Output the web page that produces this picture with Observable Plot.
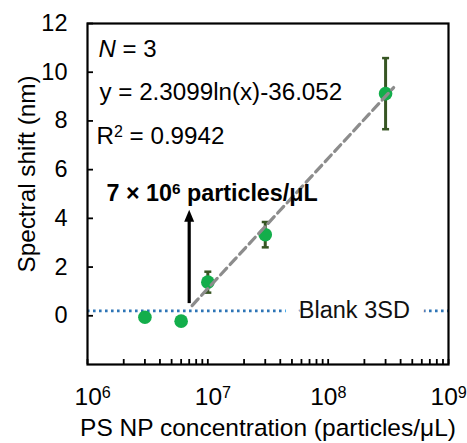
<!DOCTYPE html>
<html><head><meta charset="utf-8">
<script src="https://cdn.jsdelivr.net/npm/d3@7"></script>
<script src="https://cdn.jsdelivr.net/npm/@observablehq/plot@0.6"></script>
<style>html,body{margin:0;padding:0;background:#fff}</style>
</head><body><div id="chart"></div>
<script>
// ---- data ----
const concentrations = [3e6, 6e6, 1e7, 3e7, 3e8];      // particles/µL
const shifts = [-0.06, -0.22, 1.38, 3.33, 9.12];        // nm
const sds = [0.1, 0.1, 0.43, 0.52, 1.46];               // nm
const blank3SD = 0.2;
const fitX = [7.4e6, 3.5e8];
const fitY = [0.42, 9.37];
const lodX = 7e6;
const lodArrowY = [0.5, 4.35];
const blankLabelX = 1.65e8;
const yTicks = [0, 2, 4, 6, 8, 10, 12];
const xMajorTicks = [1e6, 1e7, 1e8, 1e9];
const xTickLabels = ["10⁶", "10⁷", "10⁸", "10⁹"];
const xTitle = "PS NP concentration (particles/μL)";
const yTitle = "Spectral shift (nm)";
const annN = "N";
const annN2 = "= 3";
const annEq = "y = 2.3099ln(x)-36.052";
const annR2 = "R² = 0.9942";
const annLod = "7 × 10⁶ particles/μL";
const blankLabel = "Blank 3SD";

const points = concentrations.map((c, i) => ({x: c, y: shifts[i], lo: shifts[i] - sds[i], hi: shifts[i] + sds[i]}));
const fit = fitX.map((x, i) => ({x, y: fitY[i]}));
const xMinorTicks = d3.scaleLog().domain([1e6, 1e9]).ticks();
const xTicks = xMajorTicks.map((v, i) => ({v, label: xTickLabels[i]}));

const capSymbol = {draw(ctx, size) { const r = Math.sqrt(size / Math.PI); ctx.moveTo(-r, 0); ctx.lineTo(r, 0); }};
const headSymbol = {draw(ctx, size) { const r = Math.sqrt(size / Math.PI); ctx.moveTo(0, 0); ctx.lineTo(-r, 2.4 * r); ctx.lineTo(r, 2.4 * r); ctx.closePath(); }};

const W = 467, H = 443, mL = 87, mR = 19, mT = 23, mB = 79;
const green = "#13AE4B", dark = "#375623";

const chart = Plot.plot({
  width: W, height: H,
  marginLeft: mL, marginRight: mR, marginTop: mT, marginBottom: mB,
  style: {fontFamily: "'Liberation Sans', Arial, sans-serif", fontSize: "24px", color: "black", background: "white", overflow: "visible"},
  x: {type: "log", domain: [1e6, 1e9], axis: null},
  y: {domain: [-2, 12], axis: null},
  marks: [
    Plot.ruleY([blank3SD], {stroke: "#2E75B6", strokeWidth: 2.6, strokeDasharray: "2.6,3.4"}),
    Plot.text([blankLabel], {x: blankLabelX, y: blank3SD, fill: "#111", stroke: "white", strokeWidth: 30, paintOrder: "stroke", strokeLinejoin: "round", textAnchor: "middle", lineAnchor: "middle", fontSize: 23.5}),
    Plot.ruleX(points, {x: "x", y1: "lo", y2: "hi", stroke: dark, strokeWidth: 3}),
    Plot.dot(points, {x: "x", y: "lo", symbol: capSymbol, r: 3.5, stroke: dark, strokeWidth: 2.5}),
    Plot.dot(points, {x: "x", y: "hi", symbol: capSymbol, r: 3.5, stroke: dark, strokeWidth: 2.5}),
    Plot.dot(points, {x: "x", y: "y", r: 6.8, fill: green, stroke: "none"}),
    Plot.line(fit, {x: "x", y: "y", stroke: "#8C8C8C", strokeWidth: 3.2, strokeDasharray: "9,5"}),
    Plot.ruleX([lodX], {y1: lodArrowY[0], y2: lodArrowY[1] - 0.3, stroke: "black", strokeWidth: 3.2}),
    Plot.dot([lodX], {x: d => d, y: lodArrowY[1], symbol: headSymbol, r: 5, fill: "black", stroke: "none"}),
    Plot.text([annN], {frameAnchor: "top-left", dx: 11, dy: 26, fontStyle: "italic", textAnchor: "start", lineAnchor: "middle", fontSize: 24}),
    Plot.text([annN2], {frameAnchor: "top-left", dx: 35, dy: 26, textAnchor: "start", lineAnchor: "middle", fontSize: 24}),
    Plot.text([annEq], {frameAnchor: "top-left", dx: 12, dy: 69, textAnchor: "start", lineAnchor: "middle", fontSize: 24.2}),
    Plot.text([annR2], {frameAnchor: "top-left", dx: 9, dy: 113, textAnchor: "start", lineAnchor: "middle", fontSize: 24.2}),
    Plot.text([annLod], {frameAnchor: "top-left", dx: 19, dy: 170, textAnchor: "start", lineAnchor: "middle", fontSize: 23.3, fontWeight: "bold"}),
    Plot.tickY(yTicks, {y: d => d, insetRight: W - mL - mR - 6, stroke: "black", strokeWidth: 1.8}),
    Plot.tickX(xMinorTicks, {x: d => d, insetTop: H - mT - mB - 5, stroke: "black", strokeWidth: 1.8}),
    Plot.text(yTicks, {y: d => d, frameAnchor: "left", dx: -20, text: d => String(d), textAnchor: "end", lineAnchor: "middle", fontSize: 23.5}),
    Plot.text(xTicks, {filter: d => d.v < 5e7, x: "v", frameAnchor: "bottom", dx: -13, dy: 33, text: "label", textAnchor: "start", lineAnchor: "middle", fontSize: 24.5}),
    Plot.text(xTicks, {filter: d => d.v > 5e7, x: "v", frameAnchor: "bottom", dx: -18, dy: 33, text: "label", textAnchor: "start", lineAnchor: "middle", fontSize: 24.5}),
    Plot.text([yTitle], {frameAnchor: "left", rotate: -90, dx: -60, dy: -20, textAnchor: "middle", lineAnchor: "middle", fontSize: 24.3}),
    Plot.text([xTitle], {frameAnchor: "bottom", dy: 64, textAnchor: "middle", lineAnchor: "middle", fontSize: 24.5}),
    Plot.frame({stroke: "black", strokeWidth: 2.2})
  ]
});

// render unicode superscripts as real superscript tspans (larger, like the reference)
const supMap = {"⁰":"0","¹":"1","²":"2","³":"3","⁴":"4","⁵":"5","⁶":"6","⁷":"7","⁸":"8","⁹":"9"};
chart.querySelectorAll("text").forEach(t => {
  const targets = t.querySelectorAll("tspan").length ? Array.from(t.querySelectorAll("tspan")) : [t];
  targets.forEach(el => {
    const s = el.textContent;
    if (!/[⁰¹²³⁴⁵⁶⁷⁸⁹]/.test(s)) return;
    while (el.firstChild) el.removeChild(el.firstChild);
    const parts = s.split(/([⁰¹²³⁴⁵⁶⁷⁸⁹]+)/);
    parts.forEach(p => {
      if (!p) return;
      const ts = document.createElementNS("http://www.w3.org/2000/svg", "tspan");
      if (/^[⁰¹²³⁴⁵⁶⁷⁸⁹]+$/.test(p)) {
        ts.textContent = p.split("").map(c => supMap[c]).join("");
        ts.setAttribute("font-size", "0.66em");
        ts.setAttribute("baseline-shift", "45%");
      } else {
        ts.textContent = p;
      }
      el.appendChild(ts);
    });
  });
});
document.getElementById("chart").appendChild(chart);
</script>
</body></html>
